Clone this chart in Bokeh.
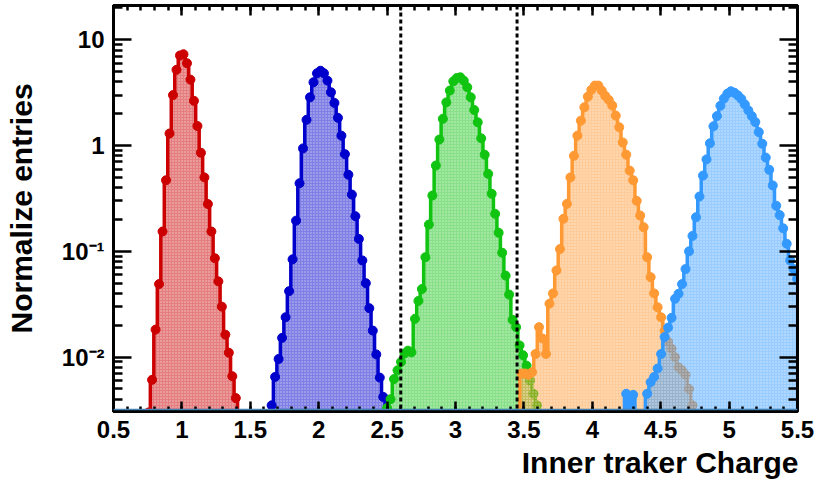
import numpy as np
from bokeh.plotting import figure
from bokeh.models import (Range1d, FixedTicker, LinearAxis, LogAxis, Span, Title,
                          CustomJSTickFormatter)
from bokeh.embed import file_html
from bokeh.resources import INLINE

# ---------------- data ----------------
bin_width = 0.0255

red_first = 0.7565
red_vals = [0.0030, 0.0061, 0.0182, 0.049, 0.154, 0.47, 1.30, 3.0, 5.2, 7.1, 7.3, 6.0,
            4.2, 2.65, 1.53, 0.855, 0.50, 0.28, 0.154, 0.086, 0.052, 0.030, 0.0163,
            0.011, 0.0066, 0.0041]

blue_first = 1.656
blue_vals = [0.0035, 0.0065, 0.0096, 0.0152, 0.0238, 0.042, 0.084, 0.195, 0.44, 0.94,
             1.75, 2.86, 3.97, 4.82, 5.1, 4.82, 4.11, 3.19, 2.53, 1.83, 1.24, 0.83,
             0.53, 0.344, 0.215, 0.131, 0.082, 0.050, 0.029, 0.0178, 0.0106, 0.0064,
             0.0042, 0.0031]

green_first = 2.4995
green_vals = [0.0033, 0.0040, 0.0062, 0.0075, 0.0090, 0.0108, 0.0115, 0.0111, 0.023,
              0.034, 0.044, 0.088, 0.179, 0.337, 0.647, 1.14, 1.79, 2.56, 3.31, 4.05,
              4.35, 4.42, 4.11, 3.56, 2.86, 2.17, 1.66, 1.17, 0.82, 0.54, 0.35, 0.226,
              0.150, 0.097, 0.059, 0.039, 0.0225, 0.0192, 0.0129, 0.0104, 0.0083,
              0.0060, 0.0045, 0.0035]

orange_first = 3.483
orange_vals = [0.0070, 0.0070, 0.0068, 0.0072, 0.0107, 0.0192, 0.0150, 0.0107, 0.032,
               0.040, 0.066, 0.105, 0.203, 0.281, 0.50, 0.80, 1.24, 1.72, 2.30, 2.90,
               3.36, 3.69, 3.69, 3.31, 2.95, 2.70, 2.39, 1.92, 1.49, 1.07, 0.82, 0.58,
               0.47, 0.30, 0.218, 0.169, 0.088, 0.057, 0.040, 0.0296, 0.0238, 0.0178,
               0.014, 0.012, 0.010, 0.008, 0.0075, 0.0068, 0.005, 0.0035]

azure_first = 4.248
azure_vals = [0.0045, 0.0010, 0.0044, 0.0010, 0.0010, 0.0025, 0.0045, 0.0058, 0.0065,
              0.0078, 0.0107, 0.0155, 0.019, 0.0235, 0.0356, 0.0397, 0.049, 0.068,
              0.10, 0.14, 0.21, 0.33, 0.52, 0.74, 1.05, 1.52, 1.90, 2.38, 2.78, 3.10,
              3.26, 3.16, 2.98, 2.76, 2.45, 2.15, 1.90, 1.67, 1.34, 1.04, 0.77, 0.59,
              0.42, 0.27, 0.22, 0.165, 0.118, 0.082, 0.068, 0.055, 0.05]

charge_ticks = [0.5, 1, 1.5, 2, 2.5, 3, 3.5, 4, 4.5, 5, 5.5]
entry_ticks = [0.01, 0.1, 1, 10]
entry_tick_labels = ["10\u207b\u00b2", "10\u207b\u00b9", "1", "10"]
cut_low, cut_high = 2.6, 3.45

x_title = "Inner traker Charge"
y_title = "Normalize entries"

# ---------------- styling ----------------
FONT = "Liberation Sans"
x_lo, x_hi = 0.5, 5.5
y_lo, y_hi = 0.00306, 21.1
floor = 1e-5

series = [
    (red_first, red_vals, "#cc0000"),
    (blue_first, blue_vals, "#0000cc"),
    (green_first, green_vals, "#11c411"),
    (orange_first, orange_vals, "#ff9933"),
    (azure_first, azure_vals, "#3399ff"),
]

p = figure(width=818, height=483, x_range=Range1d(x_lo, x_hi),
           y_range=Range1d(y_lo, y_hi), y_axis_type="log",
           output_backend="svg", toolbar_location=None,
           min_border_left=113, min_border_right=21,
           min_border_top=5, min_border_bottom=72)
p.grid.visible = False
p.background_fill_color = "white"
p.border_fill_color = "white"
p.outline_line_color = "black"
p.outline_line_width = 3

for first, vals, col in series:
    vals = np.asarray(vals, dtype=float)
    n = len(vals)
    centers = first + bin_width * np.arange(n)
    edges = first - bin_width / 2 + bin_width * np.arange(n + 1)
    xs = np.repeat(edges, 2)
    ys = np.concatenate([[floor], np.repeat(vals, 2), [floor]])
    p.varea(x=xs, y1=floor, y2=ys, fill_color=col, fill_alpha=0.5,
            hatch_pattern="dot", hatch_color="white", hatch_alpha=0.55,
            hatch_scale=3, hatch_weight=1)
    p.line(x=xs, y=ys, line_color=col, line_width=3.5)
    p.scatter(x=centers, y=vals, marker="circle", size=9, fill_color=col,
              line_color=col)

p.add_layout(Span(location=y_lo * 1.045, dimension="width", line_color="#4682b4",
                  line_width=1.5))
for loc in (cut_low, cut_high):
    p.add_layout(Span(location=loc, dimension="height", line_color="black",
                      line_width=3, line_dash="4 3"))

x_minor = [round(v, 2) for v in np.arange(x_lo, x_hi + 1e-9, 0.1)]
y_minor = [m * 10.0 ** e for e in range(-3, 2) for m in range(2, 10)]

fmt = CustomJSTickFormatter(args=dict(tvals=entry_ticks, tlabels=entry_tick_labels), code="""
for (let i = 0; i < tvals.length; i++) {
  if (Math.abs(Math.log10(tick) - Math.log10(tvals[i])) < 1e-6) return tlabels[i];
}
return "";
""")
blank = CustomJSTickFormatter(code="return '';")

def style_axis(ax, major_in, minor_in, show_labels):
    ax.axis_line_color = "black"
    ax.axis_line_width = 3
    ax.major_tick_in = major_in
    ax.major_tick_out = 0
    ax.minor_tick_in = minor_in
    ax.minor_tick_out = 0
    ax.major_tick_line_width = 2.5
    ax.minor_tick_line_width = 2.5
    ax.major_tick_line_color = "black"
    ax.minor_tick_line_color = "black"
    if show_labels:
        ax.major_label_text_font = FONT
        ax.major_label_text_font_style = "bold"
        ax.major_label_text_font_size = "24px"
        ax.major_label_text_color = "black"
        ax.major_label_standoff = 9
    else:
        ax.formatter = blank
        ax.major_label_text_font_size = "1px"
        ax.major_label_standoff = 0

xa = p.xaxis[0]
xa.ticker = FixedTicker(ticks=charge_ticks, minor_ticks=x_minor)
style_axis(xa, 10, 5, True)

ya = p.yaxis[0]
ya.ticker = FixedTicker(ticks=entry_ticks, minor_ticks=y_minor)
ya.formatter = fmt
style_axis(ya, 18, 9, True)
ya.axis_label = y_title
ya.axis_label_text_font = FONT
ya.axis_label_text_font_style = "bold"
ya.axis_label_text_font_size = "30px"
ya.axis_label_text_color = "black"
ya.axis_label_standoff = 21

top = LinearAxis(ticker=FixedTicker(ticks=charge_ticks, minor_ticks=x_minor))
style_axis(top, 10, 5, False)
p.add_layout(top, "above")

right = LogAxis(ticker=FixedTicker(ticks=entry_ticks, minor_ticks=y_minor))
style_axis(right, 18, 9, False)
p.add_layout(right, "right")

p.add_layout(Title(text=x_title, align="right", text_font=FONT,
                   text_font_style="bold", text_font_size="30px",
                   text_color="black", standoff=6, offset=-1), "below")

open("out.html", "w").write(file_html(p, INLINE))
